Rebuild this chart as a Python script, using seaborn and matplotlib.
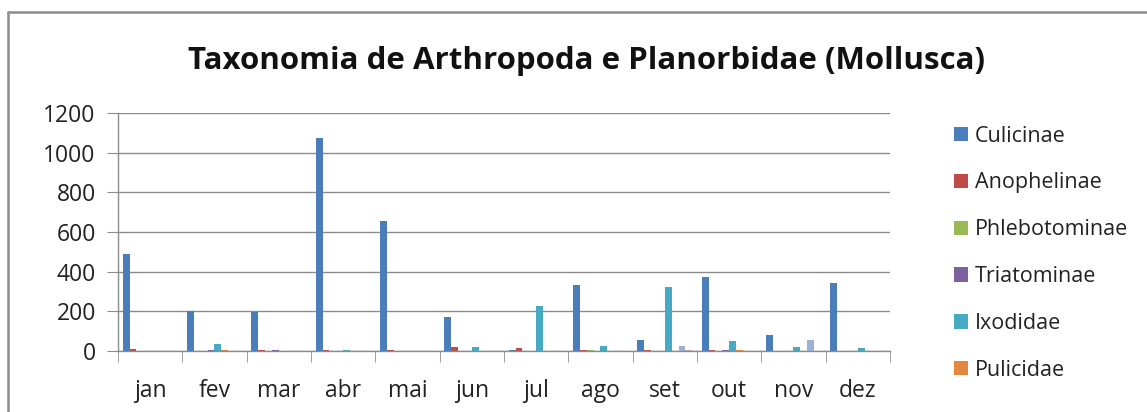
import pandas as pd
import matplotlib.pyplot as plt
import seaborn as sns
from matplotlib.lines import Line2D
from matplotlib.patches import Patch

# Data
meses = ['jan', 'fev', 'mar', 'abr', 'mai', 'jun', 'jul', 'ago', 'set', 'out', 'nov', 'dez']
grupos = ['Culicinae', 'Anophelinae', 'Phlebotominae', 'Triatominae',
          'Ixodidae', 'Pulicidae', 'Planorbidae', 'Outros']
culicinae = [490, 200, 198, 1075, 655, 170, 5, 333, 55, 371, 79, 344]
anophelinae = [8, 0, 6, 6, 6, 22, 15, 6, 6, 6, 0, 0]
phlebotominae = [0, 0, 0, 0, 0, 0, 0, 5, 0, 0, 0, 0]
triatominae = [0, 5, 6, 0, 0, 0, 0, 0, 0, 5, 0, 0]
ixodidae = [0, 34, 0, 5, 0, 22, 228, 27, 324, 49, 22, 15]
pulicidae = [0, 5, 0, 0, 0, 0, 0, 0, 0, 5, 0, 0]
planorbidae = [0, 0, 0, 0, 0, 0, 0, 0, 27, 0, 55, 0]
outros = [0, 0, 0, 0, 0, 0, 0, 0, 5, 0, 0, 0]
cores = ['#4A7EBB', '#BE4B48', '#98B954', '#7D60A0', '#46AAC5', '#E5883F', '#9AB2DA', '#DDA09E']

valores = [culicinae, anophelinae, phlebotominae, triatominae, ixodidae, pulicidae, planorbidae, outros]
linhas = []
for g, vals in zip(grupos, valores):
    for m, v in zip(meses, vals):
        linhas.append({'mes': m, 'grupo': g, 'valor': v})
df = pd.DataFrame(linhas)

sns.set_style('white')
plt.rcParams['font.family'] = ['Open Sans', 'DejaVu Sans']

fig = plt.figure(figsize=(11.47, 4.12), dpi=100)
ax = fig.add_axes([118 / 1147, 61 / 412, 772 / 1147, 238 / 412])

sns.barplot(data=df, x='mes', y='valor', hue='grupo', hue_order=grupos, order=meses,
            palette=cores, saturation=1, width=0.85, gap=0, linewidth=0,
            errorbar=None, ax=ax, legend=False)

ax.set_xlim(-0.5, 11.5)
ax.set_ylim(0, 1200)
ax.set_yticks(range(0, 1201, 200))
ax.set_xlabel('')
ax.set_ylabel('')
ax.yaxis.grid(True, color='#8c8c8c', linewidth=1)
ax.set_axisbelow(True)
for s in ['top', 'right']:
    ax.spines[s].set_visible(False)
for s in ['left', 'bottom']:
    ax.spines[s].set_color('#8c8c8c')
    ax.spines[s].set_linewidth(1)

ax.tick_params(axis='y', length=8, color='#8c8c8c', labelsize=16.5, pad=8, direction='out',
               left=True, labelcolor='#222222')
ax.tick_params(axis='x', which='major', length=0, labelsize=16.5, pad=20, labelcolor='#222222')
ax.set_xticks([i - 0.5 for i in range(13)], minor=True)
ax.tick_params(axis='x', which='minor', length=8, color='#8c8c8c', direction='out', bottom=True)

fig.text(0.511, 0.852, 'Taxonomia de Arthropoda e Planorbidae (Mollusca)',
         ha='center', va='center', fontsize=22.5, fontweight='bold', color='#111111')

# legenda: so as seis entradas visiveis
handles = [Patch(facecolor=c, edgecolor='none') for c in cores[:6]]
fig.legend(handles, grupos[:6], loc='upper left', bbox_to_anchor=(945 / 1147, 1 - 117 / 412),
           frameon=False, fontsize=15.5, handlelength=0.65, handleheight=0.65,
           handletextpad=0.35, labelspacing=1.2, borderaxespad=0, labelcolor='#222222')

fig.add_artist(Line2D([8 / 1147, 8 / 1147], [-0.1, 1 - 12 / 412], color='#8c8c8c', linewidth=1.8))
fig.add_artist(Line2D([8 / 1147, 1.1], [1 - 12 / 412, 1 - 12 / 412], color='#8c8c8c', linewidth=1.8))

fig.savefig('out.png', dpi=100)
